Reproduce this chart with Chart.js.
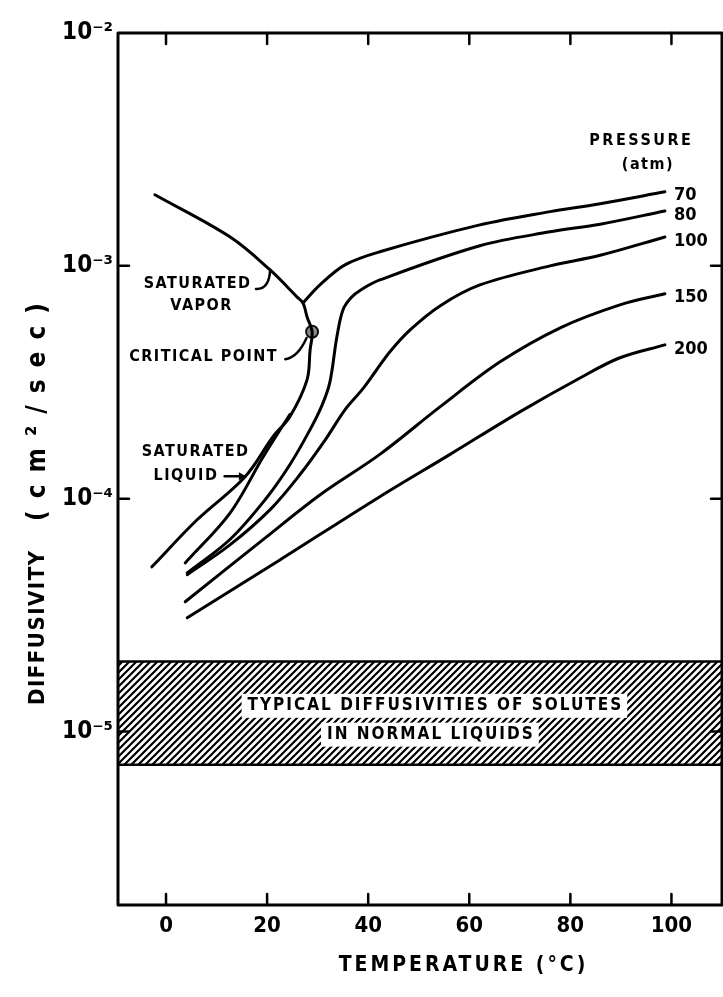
<!DOCTYPE html>
<html>
<head>
<meta charset="utf-8">
<script src="https://cdn.jsdelivr.net/npm/chart.js@4/dist/chart.umd.min.js"></script>
<style>
  html, body { margin: 0; padding: 0; background: #fff; }
  #wrap { width: 723px; height: 997px; }
  canvas { display: block; }
</style>
</head>
<body>
<div id="wrap"><canvas id="c" width="723" height="997"></canvas></div>
<script>
// Axis ticks: temperature (°C) and diffusivity decades (cm²/sec)
const tempTicks = [0, 20, 40, 60, 80, 100];
const diffTicks = [1e-5, 1e-4, 1e-3, 1e-2];
const diffTickLabels = ['10⁻⁵', '10⁻⁴', '10⁻³', '10⁻²'];

// Saturation curve: vapor branch down to the critical point, then back along the liquid branch
const satT = [-2.2, 12.7, 20.6, 25.9, 27.1, 27.9, 28.9, 28.5, 27.9, 24.5, 21.2, 15.6, 6.1, -2.8];
const satD = [2.02e-3, 1.33e-3, 9.6e-4, 7.36e-4, 6.93e-4, 6.04e-4, 5.21e-4, 4.35e-4, 3.24e-4, 2.25e-4, 1.85e-4, 1.24e-4, 8.1e-5, 5.1e-5];

// Critical point
const critT = [28.9];
const critD = [5.21e-4];

// Isobars (atm); the 70 atm line breaks across the two-phase region
const p70T = [3.8, 12.7, 19.2, 24.5, 26.0, 27.1, 30.5, 35.4, 42.3, 62.1, 76.0, 85.9, 98.7];
const p70D = [5.3e-5, 8.7e-5, 1.51e-4, 2.3e-4, null, 6.93e-4, 8.3e-4, 1.01e-3, 1.15e-3, 1.5e-3, 1.71e-3, 1.85e-3, 2.08e-3];

const p80T = [4.2, 12.7, 19.6, 24.5, 28.5, 30.9, 32.4, 33.8, 35.0, 36.6, 38.6, 42.3, 62.1, 76.0, 85.9, 98.7];
const p80D = [4.8e-5, 6.7e-5, 9.9e-5, 1.4e-4, 1.98e-4, 2.53e-4, 3.15e-4, 4.95e-4, 6.47e-4, 7.3e-4, 7.9e-4, 8.7e-4, 1.22e-3, 1.4e-3, 1.51e-3, 1.72e-3];

const p100T = [4.2, 12.7, 20.6, 26.5, 31.5, 35.4, 38.8, 41.4, 44.3, 48.3, 54.2, 62.1, 76.0, 85.9, 98.7];
const p100D = [4.72e-5, 6.35e-5, 8.98e-5, 1.27e-4, 1.79e-4, 2.41e-4, 2.94e-4, 3.51e-4, 4.28e-4, 5.31e-4, 6.73e-4, 8.28e-4, 1.0e-3, 1.11e-3, 1.33e-3];

const p150T = [3.8, 19.2, 30.5, 42.3, 54.2, 66.1, 78.0, 89.8, 98.7];
const p150D = [3.61e-5, 6.67e-5, 1.04e-4, 1.55e-4, 2.48e-4, 3.87e-4, 5.42e-4, 6.8e-4, 7.59e-4];

const p200T = [4.2, 22.6, 42.3, 56.2, 70.0, 81.9, 89.8, 98.7];
const p200D = [3.08e-5, 5.47e-5, 1.02e-4, 1.55e-4, 2.36e-4, 3.3e-4, 4.03e-4, 4.58e-4];

const pressureLabels = ['70', '80', '100', '150', '200'];

// Band of typical solute diffusivities in ordinary liquids
const bandT = [-9.5, 110];
const bandHigh = 2.0e-5;
const bandLow = 7.2e-6;

const zip = (xs, ys) => xs.map((x, i) => ({ x: x, y: ys[i] }));

const FONT = '"DejaVu Sans Condensed", "DejaVu Sans", "Liberation Sans", sans-serif';

// Diagonal hatching for the band
function hatchPattern() {
  const s = 7;
  const t = document.createElement('canvas');
  t.width = s; t.height = s;
  const g = t.getContext('2d');
  g.fillStyle = '#fff';
  g.fillRect(0, 0, s, s);
  g.strokeStyle = '#000';
  g.lineWidth = 2.2;
  g.beginPath();
  g.moveTo(-1, s + 1); g.lineTo(s + 1, -1);
  g.moveTo(-1, 1); g.lineTo(1, -1);
  g.moveTo(s - 1, s + 1); g.lineTo(s + 1, s - 1);
  g.stroke();
  return document.getElementById('c').getContext('2d').createPattern(t, 'repeat');
}

const curve = (label, xs, ys) => ({
  label: label,
  data: zip(xs, ys),
  borderColor: '#000',
  borderWidth: 3,
  pointRadius: 0,
  tension: 0.35,
  fill: false,
  spanGaps: false,
  borderCapStyle: 'round',
  borderJoinStyle: 'round'
});

const isobars = [
  curve('70', p70T, p70D),
  curve('80', p80T, p80D),
  curve('100', p100T, p100D),
  curve('150', p150T, p150D),
  curve('200', p200T, p200D)
];

// Frame, inward ticks and all annotation text
const decorations = {
  id: 'decorations',
  afterDraw(chart) {
    const { ctx, chartArea: a } = chart;
    const xs = chart.scales.x, ys = chart.scales.y;
    const X = v => xs.getPixelForValue(v);
    const Y = v => ys.getPixelForValue(v);
    const text = (t, x, y, size, spacing) => {
      ctx.font = 'bold ' + size + 'px ' + FONT;
      ctx.letterSpacing = (spacing || 0) + 'px';
      ctx.fillText(t, x + (spacing || 0) / 2, y);
    };
    ctx.save();
    ctx.strokeStyle = '#000';
    ctx.fillStyle = '#000';
    ctx.lineCap = 'round';
    ctx.lineJoin = 'round';

    // plot frame
    ctx.lineWidth = 3;
    ctx.strokeRect(a.left, a.top, a.right - a.left, a.bottom - a.top);

    // inward ticks
    const seg = (x1, y1, x2, y2) => { ctx.beginPath(); ctx.moveTo(x1, y1); ctx.lineTo(x2, y2); ctx.stroke(); };
    ctx.lineWidth = 2.5;
    const L = 11;
    tempTicks.forEach(t => {
      const px = X(t);
      seg(px, a.bottom, px, a.bottom - L);
      seg(px, a.top, px, a.top + L);
    });
    diffTicks.forEach(d => {
      const py = Y(d);
      if (py <= a.top + 1) return;
      seg(a.left, py, a.left + L, py);
      seg(a.right, py, a.right - L, py);
    });

    // white boxes and text inside the hatched band
    ctx.textAlign = 'center';
    ctx.textBaseline = 'middle';
    const bandLines = [
      { t: 'TYPICAL DIFFUSIVITIES OF SOLUTES', x: 53.1, y: 1.29e-5 },
      { t: 'IN NORMAL LIQUIDS', x: 52.2, y: 9.7e-6 }
    ];
    ctx.font = 'bold 17px ' + FONT;
    ctx.letterSpacing = '2px';
    bandLines.forEach(b => {
      const w = ctx.measureText(b.t).width;
      ctx.fillStyle = '#fff';
      ctx.fillRect(X(b.x) - w / 2 - 5, Y(b.y) - 12, w + 10, 24);
    });
    ctx.fillStyle = '#000';
    bandLines.forEach(b => text(b.t, X(b.x), Y(b.y), 17, 2));

    // pressure labels at the right end of each isobar
    ctx.textAlign = 'left';
    isobars.forEach((ds, i) => {
      const last = ds.data[ds.data.length - 1];
      text(pressureLabels[i], X(last.x) + 9, Y(last.y) + 4, 18, 0);
    });
    ctx.textAlign = 'center';
    text('PRESSURE', X(93.8), Y(Math.pow(10, -2.464)), 16, 2.5);
    text('(atm)', X(95.2), Y(Math.pow(10, -2.567)), 16, 1.5);

    // curve annotations
    text('SATURATED', X(6.1), Y(8.37e-4), 16, 1.5);
    text('VAPOR', X(6.9), Y(6.73e-4), 16, 1.5);
    text('CRITICAL POINT', X(7.3), Y(4.06e-4), 16, 1.5);
    text('SATURATED', X(5.7), Y(1.59e-4), 16, 1.5);
    text('LIQUID', X(3.8), Y(1.26e-4), 16, 1.5);

    ctx.lineWidth = 2.5;
    // vapor leader
    ctx.beginPath();
    ctx.moveTo(X(17.8), Y(7.96e-4));
    ctx.quadraticCurveTo(X(20.4), Y(7.9e-4), X(20.6), Y(9.6e-4));
    ctx.stroke();
    // critical point leader
    ctx.beginPath();
    ctx.moveTo(X(23.6), Y(3.97e-4));
    ctx.quadraticCurveTo(X(26.1), Y(4.05e-4), X(27.8), Y(4.9e-4));
    ctx.stroke();
    // saturated liquid arrow
    const ax1 = X(11.6), ax2 = X(15.4), ay = Y(1.25e-4);
    seg(ax1, ay, ax2, ay);
    ctx.beginPath();
    ctx.moveTo(ax2 + 2, ay);
    ctx.lineTo(ax2 - 5, ay - 4);
    ctx.lineTo(ax2 - 5, ay + 4);
    ctx.closePath();
    ctx.fill();

    // axis titles
    text('TEMPERATURE (°C)', 462, 966, 21, 3);
    ctx.translate(38, 0);
    ctx.rotate(-Math.PI / 2);
    text('DIFFUSIVITY', -628, 0, 22, 1.5);
    text('(cm²/sec)', -412, 0, 26, 12);
    ctx.restore();
  }
};

new Chart(document.getElementById('c'), {
  type: 'line',
  data: {
    datasets: [
      {
        label: 'band top',
        data: zip(bandT, bandT.map(() => bandHigh)),
        borderColor: '#000', borderWidth: 2.5, pointRadius: 0, fill: false
      },
      {
        label: 'Typical diffusivities of solutes in normal liquids',
        data: zip(bandT, bandT.map(() => bandLow)),
        borderColor: '#000', borderWidth: 2.5, pointRadius: 0,
        fill: '-1', backgroundColor: hatchPattern()
      },
      curve('Saturated', satT, satD),
      ...isobars,
      {
        label: 'Critical point',
        data: zip(critT, critD),
        showLine: false,
        pointRadius: 6,
        pointBackgroundColor: '#8a8a8a',
        pointBorderColor: '#111',
        pointBorderWidth: 2
      }
    ]
  },
  options: {
    responsive: false,
    animation: false,
    layout: { autoPadding: false, padding: { left: 0, right: 1, top: 33, bottom: 0 } },
    plugins: { legend: { display: false }, tooltip: { enabled: false } },
    scales: {
      x: {
        type: 'linear', min: -9.5, max: 110,
        grid: { display: false, drawTicks: false },
        border: { display: false },
        afterBuildTicks: s => { s.ticks = tempTicks.map(v => ({ value: v })); },
        afterFit: s => { s.height = 92; s.paddingLeft = 0; s.paddingRight = 0; },
        ticks: {
          padding: 8, color: '#000', autoSkip: false, maxRotation: 0,
          font: { family: FONT, size: 22, weight: 'bold' },
          callback: v => String(v)
        }
      },
      y: {
        type: 'logarithmic', min: 1.8e-6, max: 1e-2,
        grid: { display: false, drawTicks: false },
        border: { display: false },
        afterBuildTicks: s => { s.ticks = diffTicks.map(v => ({ value: v })); },
        afterFit: s => { s.width = 118; s.paddingTop = 0; s.paddingBottom = 0; },
        ticks: {
          padding: 5, color: '#000', autoSkip: false,
          font: { family: FONT, size: 24, weight: 'bold' },
          callback: v => diffTickLabels[diffTicks.indexOf(v)]
        }
      }
    }
  },
  plugins: [decorations]
});
</script>
</body>
</html>
